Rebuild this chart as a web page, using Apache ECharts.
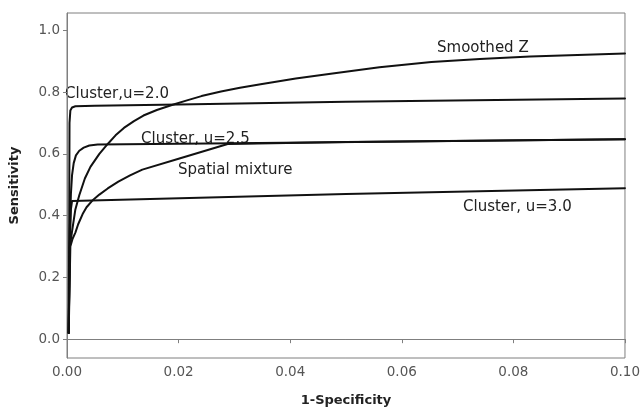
<!DOCTYPE html>
<html>
<head>
<meta charset="utf-8">
<script src="https://cdn.jsdelivr.net/npm/echarts@6/dist/echarts.min.js"></script>
<style>html,body{margin:0;padding:0;background:#fff}#c{width:643px;height:412px}</style>
</head>
<body>
<div id="c"></div>
<script>
// Data: [1-Specificity, Sensitivity]
var clusterU20 = [[0.0003,0.02],[0.0004,0.40],[0.00045,0.70],[0.0006,0.740],[0.0009,0.750],[0.0015,0.754],[0.005,0.756],[0.02,0.760],[0.05,0.769],[0.1,0.779]];
var clusterU25 = [[0.0003,0.02],[0.0005,0.35],[0.0007,0.47],[0.0009,0.53],[0.0012,0.57],[0.0016,0.595],[0.0022,0.61],[0.003,0.62],[0.004,0.627],[0.0055,0.630],[0.03,0.634],[0.1,0.647]];
var clusterU30 = [[0.0003,0.02],[0.0005,0.30],[0.0007,0.42],[0.0009,0.447],[0.0012,0.453],[0.05,0.470],[0.1,0.489]];
var smoothedZ = [[0.0003,0.02],[0.0005,0.30],[0.001,0.36],[0.0015,0.42],[0.0022,0.466],[0.0032,0.52],[0.0042,0.558],[0.0058,0.60],[0.0073,0.632],[0.0087,0.660],[0.0102,0.684],[0.0120,0.706],[0.0137,0.724],[0.0161,0.742],[0.0188,0.758],[0.0215,0.773],[0.0241,0.787],[0.0276,0.802],[0.0310,0.814],[0.0347,0.825],[0.0410,0.844],[0.0476,0.860],[0.0560,0.880],[0.0653,0.897],[0.0740,0.907],[0.083,0.915],[0.0915,0.920],[0.1,0.925]];
var spatialMixture = [[0.0003,0.02],[0.0006,0.30],[0.0010,0.325],[0.0015,0.345],[0.0020,0.372],[0.0028,0.405],[0.0035,0.427],[0.0045,0.448],[0.0058,0.468],[0.0073,0.488],[0.0092,0.510],[0.0113,0.530],[0.0135,0.549],[0.0200,0.584],[0.0288,0.632],[0.05,0.638],[0.1,0.647]];
var yTicks = [0, 0.2, 0.4, 0.6, 0.8, 1.0];
var curveNames = ['Cluster,u=2.0', 'Cluster, u=2.5', 'Cluster, u=3.0', 'Smoothed Z', 'Spatial mixture'];

var chart = echarts.init(document.getElementById('c'));
var axisGrey = '#7f7f7f';
var labelFont = '15px "DejaVu Sans"';
function mk(name, data) {
  return {name: name, type: 'line', data: data, showSymbol: false, smooth: false,
    lineStyle: {color: '#111', width: 2, join: 'round', cap: 'round'}, animation: false};
}
chart.setOption({
  animation: false,
  grid: {left: 64, right: 14, top: 13, bottom: 45, show: true, borderColor: axisGrey, borderWidth: 1},
  xAxis: {
    type: 'value', min: 0, max: 0.1, interval: 0.02,
    name: '1-Specificity', nameLocation: 'middle', nameGap: 36,
    nameTextStyle: {fontFamily: 'DejaVu Sans', fontSize: 13, fontWeight: 'bold', color: '#222'},
    axisLine: {show: true, lineStyle: {color: axisGrey}},
    axisTick: {show: true, length: 4, lineStyle: {color: axisGrey}},
    axisLabel: {fontFamily: 'DejaVu Sans', fontSize: 13.5, color: '#555', margin: 7,
      formatter: function (v) { return v.toFixed(2); }},
    splitLine: {show: false}
  },
  yAxis: {
    type: 'value', min: -0.061, max: 1.056,
    name: 'Sensitivity', nameLocation: 'middle', nameGap: 46,
    nameTextStyle: {fontFamily: 'DejaVu Sans', fontSize: 13, fontWeight: 'bold', color: '#222'},
    axisLine: {show: true, lineStyle: {color: axisGrey}},
    axisTick: {show: true, length: 4, customValues: yTicks, lineStyle: {color: axisGrey}},
    axisLabel: {fontFamily: 'DejaVu Sans', fontSize: 13.5, color: '#555', margin: 7, customValues: yTicks,
      formatter: function (v) { return v.toFixed(1); }},
    splitLine: {show: false}
  },
  series: [mk(curveNames[0], clusterU20), mk(curveNames[1], clusterU25), mk(curveNames[2], clusterU30),
           mk(curveNames[3], smoothedZ), mk(curveNames[4], spatialMixture)],
  graphic: [
    {type: 'text', x: 65, y: 94, style: {text: curveNames[0], font: labelFont, fill: '#222', verticalAlign: 'middle'}},
    {type: 'text', x: 141, y: 139, style: {text: curveNames[1], font: labelFont, fill: '#222', verticalAlign: 'middle'}},
    {type: 'text', x: 463, y: 207.5, style: {text: curveNames[2], font: labelFont, fill: '#222', verticalAlign: 'middle'}},
    {type: 'text', x: 437, y: 48, style: {text: curveNames[3], font: labelFont, fill: '#222', verticalAlign: 'middle'}},
    {type: 'text', x: 178, y: 170, style: {text: curveNames[4], font: labelFont, fill: '#222', verticalAlign: 'middle'}}
  ]
});
</script>
</body>
</html>
